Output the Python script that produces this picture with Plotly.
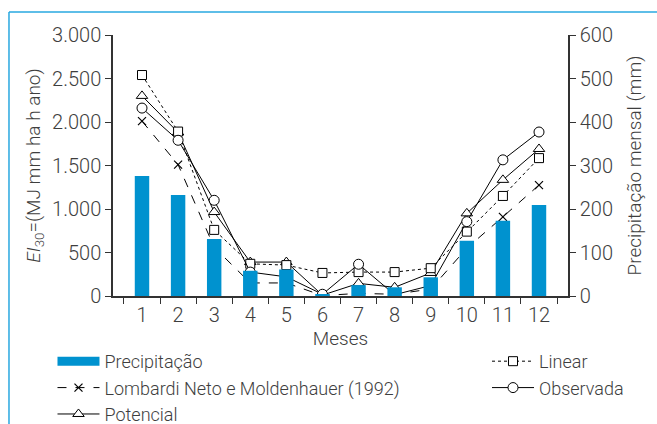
import plotly.graph_objects as go

meses = ["1", "2", "3", "4", "5", "6", "7", "8", "9", "10", "11", "12"]
precipitacao = [276, 232, 131, 58, 61, 3, 25, 20, 43, 127, 173, 209]
linear = [2540, 1890, 760, 370, 355, 265, 275, 275, 320, 740, 1150, 1585]
lombardi = [2010, 1510, 560, 150, 150, 5, 30, 20, 80, 550, 910, 1275]
observada = [2160, 1790, 1100, 275, 220, 20, 365, 15, 120, 855, 1565, 1885]
potencial = [2300, 1880, 965, 390, 390, 10, 145, 100, 265, 950, 1335, 1690]

left_ticks = [0, 500, 1000, 1500, 2000, 2500, 3000]
left_ticktext = ["0", "500", "1.000", "1.500", "2.000", "2.500", "3.000"]
right_ticks = [0, 100, 200, 300, 400, 500, 600]

BAR = "#0092CF"
TXT = "#3e3e3e"
FONT = "Roboto"

fig = go.Figure()

fig.add_trace(go.Bar(x=meses, y=precipitacao, yaxis="y2", marker=dict(color=BAR, line=dict(width=0)),
                     width=0.4, name="Precipitação", showlegend=False))
# legend sample for precipitation
fig.add_trace(go.Scatter(x=[None], y=[None], mode="lines", line=dict(color=BAR, width=9),
                         name="Precipitação", legend="legend"))

def mk(symbol, size=9):
    return dict(symbol=symbol, size=size, color="white", line=dict(color="black", width=1))

fig.add_trace(go.Scatter(x=meses, y=lombardi, mode="lines+markers", name="Lombardi Neto e Moldenhauer (1992)",
                         line=dict(color="black", width=1, dash="dash"),
                         marker=dict(symbol="x-thin", size=8, color="black", line=dict(color="black", width=1.2)),
                         legend="legend"))
fig.add_trace(go.Scatter(x=meses, y=potencial, mode="lines+markers", name="Potencial",
                         line=dict(color="black", width=1), marker=mk("triangle-up", 10), legend="legend"))
fig.add_trace(go.Scatter(x=meses, y=linear, mode="lines+markers", name="Linear",
                         line=dict(color="black", width=1, dash="dot"), marker=mk("square", 9), legend="legend2"))
fig.add_trace(go.Scatter(x=meses, y=observada, mode="lines+markers", name="Observada",
                         line=dict(color="black", width=1), marker=mk("circle", 10), legend="legend2"))

axis_common = dict(showgrid=False, zeroline=False, showline=True, linecolor="#333333", linewidth=1.5,
                   ticks="outside", ticklen=6, tickwidth=1.2, tickcolor="#333333",
                   tickfont=dict(family=FONT, size=20, color=TXT, weight=300))

title_font = dict(family=FONT, size=19, color=TXT, weight=300)
legend_font = dict(family=FONT, size=18, color=TXT, weight=300)

fig.update_layout(
    width=657, height=424,
    margin=dict(l=113, r=89, t=35, b=128, autoexpand=False),
    plot_bgcolor="white", paper_bgcolor="white",
    font=dict(family=FONT, color=TXT, weight=300),
    xaxis=dict(type="category", tickson="boundaries", title=dict(text="Meses", font=title_font, standoff=2),
               **axis_common),
    yaxis=dict(range=[0, 3000], tickvals=left_ticks, ticktext=left_ticktext,
               title=dict(text="<i>EI</i><sub>30</sub>=(MJ mm ha h ano)", font=title_font, standoff=6),
               **axis_common),
    yaxis2=dict(range=[0, 600], tickvals=right_ticks, overlaying="y", side="right", anchor="x",
                title=dict(text="Precipitação mensal (mm)", font=title_font, standoff=16),
                **axis_common),
    legend=dict(x=-0.133, y=-0.18, xanchor="left", yanchor="top", orientation="v",
                font=legend_font, bgcolor="rgba(0,0,0,0)", tracegroupgap=0, itemwidth=42),
    legend2=dict(x=0.822, y=-0.18, xanchor="left", yanchor="top", orientation="v",
                 font=legend_font, bgcolor="rgba(0,0,0,0)", tracegroupgap=0, itemwidth=42),
    shapes=[
        dict(type="line", xref="paper", yref="paper", x0=-0.2286, x1=-0.2286, y0=-0.6, y1=1.0881,
             line=dict(color="#29A8E0", width=1.5)),
        dict(type="line", xref="paper", yref="paper", x0=-0.2286, x1=1.4, y0=1.0881, y1=1.0881,
             line=dict(color="#29A8E0", width=1.5)),
    ],
)

fig.write_html("out.html")
